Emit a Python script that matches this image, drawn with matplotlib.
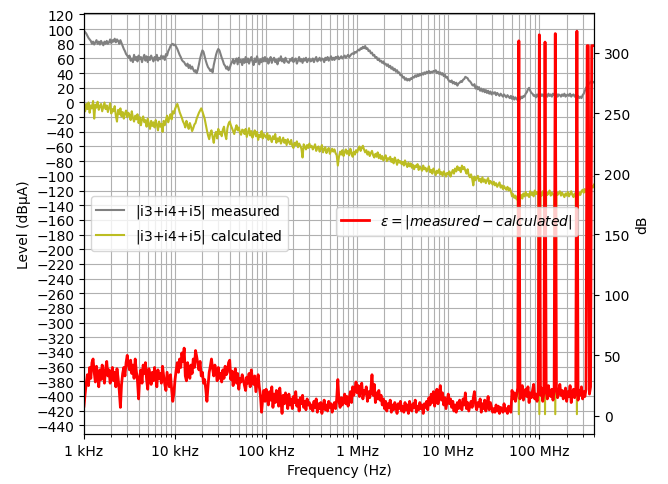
import numpy as np
import matplotlib
matplotlib.use("Agg")
import matplotlib.pyplot as plt
from matplotlib.ticker import EngFormatter, NullFormatter

# Spectrum sampled on a logarithmic grid, 1 kHz .. 400 MHz (80 points per decade)
f_start, f_stop, n_pts = 1e3, 4e8, 449
freq = np.geomspace(f_start, f_stop, n_pts)

# |i3+i4+i5| measured (dBuA)
measured = [
    98, 96, 94, 91, 88, 86, 84, 80, 83, 79, 82, 85, 80, 83, 79, 84, 81, 78, 83, 80,
    84, 80, 82, 86, 81, 85, 83, 87, 82, 86, 84, 80, 85, 81, 77, 73, 70, 66, 64, 61,
    64, 57, 60, 55, 65, 58, 62, 56, 64, 59, 62, 55, 61, 65, 57, 63, 55, 62, 58, 64,
    60, 56, 62, 58, 65, 57, 61, 59, 64, 60, 63, 58, 66, 64, 70, 73, 77, 79, 80, 78,
    79, 76, 73, 69, 65, 62, 58, 56, 55, 52, 50, 53, 47, 51, 46, 49, 45, 42, 44, 40,
    45, 52, 60, 66, 71, 69, 63, 57, 52, 48, 46, 43, 45, 41, 51, 58, 65, 70, 73, 71,
    66, 61, 57, 52, 50, 46, 49, 44, 47, 52, 55, 59, 53, 57, 60, 52, 61, 55, 58, 51,
    59, 54, 62, 55, 60, 53, 58, 62, 56, 51, 60, 55, 63, 57, 52, 59, 55, 61, 56, 62,
    56, 60, 53, 58, 62, 54, 59, 61, 55, 58, 52, 60, 57, 63, 56, 59, 54, 61, 57, 55,
    54, 59, 57, 61, 55, 58, 60, 53, 57, 62, 56, 59, 54, 60, 57, 61, 55, 58, 60, 56,
    57, 60, 55, 59, 62, 56, 58, 61, 57, 60, 59, 55, 61, 58, 62, 57, 60, 63, 58, 61,
    58, 62, 60, 63, 59, 61, 63, 60, 62, 64, 61, 63, 65, 62, 64, 66, 67, 66, 69, 68,
    70, 72, 71, 74, 73, 76, 74, 77, 73, 74, 70, 71, 67, 68, 64, 65, 61, 62, 58, 60,
    56, 57, 54, 56, 52, 53, 50, 52, 48, 50, 46, 48, 44, 46, 42, 44, 40, 41, 37, 38,
    34, 35, 31, 33, 30, 32, 30, 33, 32, 35, 34, 37, 35, 38, 36, 39, 37, 40, 38, 41,
    39, 42, 40, 43, 40, 42, 41, 43, 42, 44, 40, 42, 39, 41, 38, 40, 36, 38, 34, 35,
    31, 29, 28, 30, 26, 28, 25, 27, 23, 26, 27, 29, 28, 31, 32, 35, 34, 33, 30, 29,
    27, 24, 23, 25, 19, 22, 18, 21, 16, 19, 15, 18, 14, 17, 13, 16, 12, 15, 11, 14,
    12, 14, 10, 13, 11, 9, 12, 10, 8, 11, 9, 7, 10, 8, 6, 9, 5, 8, 4, 7,
    5, 3, 6, 4, 8, 6, 9, 8, 12, 14, 18, 20, 16, 13, 12, 9, 10, 7, 11, 8,
    10, 12, 9, 11, 8, 12, 10, 8, 12, 9, 11, 8, 12, 10, 9, 12, 8, 11, 10, 8,
    11, 9, 12, 8, 10, 11, 9, 12, 8, 10, 11, 8, 10, 7, 9, 6, 8, 6, 10, 12,
    16, 20, 22, 25, 26, 28, 29, 27, 28,
]

# |i3+i4+i5| calculated (dBuA)
calculated = [
    -6, -12, -2, -9, 0, -14, -4, -8, 2, -22, -3, -7, 1, -10, -5, -2, -12, -6, 0, -9,
    -4, -13, -7, -1, -15, -9, -12, -5, -18, -26, -10, -16, -8, -19, -13, -22, -15, -11, -20, -14,
    -17, -24, -12, -21, -26, -18, -23, -16, -28, -20, -31, -23, -19, -27, -24, -33, -22, -29, -36, -25,
    -32, -27, -34, -24, -30, -38, -26, -33, -29, -40, -25, -31, -24, -18, -27, -21, -16, -23, -12, -15,
    -9, -5, -2, -7, -13, -17, -21, -26, -29, -34, -25, -31, -36, -28, -33, -39, -35, -30, -28, -22,
    -18, -14, -11, -8, -12, -17, -22, -30, -38, -45, -50, -42, -38, -47, -55, -44, -40, -49, -36, -43,
    -40, -46, -37, -33, -44, -50, -35, -29, -26, -31, -35, -39, -43, -36, -31, -38, -34, -41, -44, -37,
    -38, -43, -36, -47, -41, -35, -45, -39, -48, -42, -38, -46, -40, -51, -44, -47, -39, -49, -43, -46,
    -48, -42, -51, -45, -49, -54, -46, -50, -43, -55, -49, -53, -47, -56, -52, -48, -55, -51, -58, -50,
    -54, -57, -51, -59, -62, -55, -58, -53, -61, -56, -59, -63, -75, -57, -60, -64, -58, -62, -56, -61,
    -59, -64, -61, -57, -66, -62, -60, -67, -63, -58, -68, -64, -61, -69, -65, -62, -70, -66, -63, -67,
    -64, -69, -72, -86, -74, -67, -71, -65, -73, -68, -64, -70, -66, -72, -63, -69, -74, -67, -71, -65,
    -68, -63, -60, -66, -62, -59, -64, -68, -65, -71, -67, -73, -69, -66, -72, -75, -70, -74, -68, -76,
    -71, -77, -73, -79, -75, -72, -80, -76, -78, -74, -81, -77, -83, -75, -79, -85, -78, -82, -80, -84,
    -81, -86, -79, -84, -88, -82, -87, -83, -89, -85, -91, -86, -88, -84, -92, -87, -90, -93, -86, -91,
    -89, -94, -91, -87, -95, -92, -97, -90, -94, -99, -93, -96, -91, -98, -95, -100, -94, -97, -101, -96,
    -98, -94, -101, -96, -92, -97, -90, -94, -87, -92, -89, -95, -86, -91, -88, -93, -97, -91, -99, -102,
    -98, -104, -113, -101, -106, -103, -100, -107, -104, -109, -102, -108, -105, -110, -106, -103, -111, -107, -109, -112,
    -108, -113, -110, -115, -112, -109, -116, -113, -118, -114, -117, -119, -115, -120, -117, -121, -128, -125, -130, -127,
    -132, -128, -425, -130, -126, -131, -124, -128, -122, -127, -125, -129, -121, -126, -123, -128, -120, -125, -122, -126,
    -425, -123, -127, -121, -125, -425, -122, -126, -124, -120, -127, -123, -125, -128, -425, -122, -126, -124, -121, -127,
    -123, -126, -129, -124, -127, -122, -128, -125, -121, -126, -129, -124, -127, -425, -128, -123, -126, -121, -119, -123,
    -118, -122, -117, -120, -115, -118, -114, -116, -112,
]

# Difference between measured and calculated (dB)
epsilon = [
    8, 18, 27, 34, 25, 40, 31, 44, 47, 36, 28, 41, 33, 24, 38, 30, 42, 35, 27, 39,
    45, 33, 38, 27, 34, 40, 29, 36, 24, 39, 31, 21, 7, 26, 35, 40, 33, 44, 50, 42,
    38, 46, 35, 42, 31, 47, 37, 29, 14, 33, 38, 27, 42, 35, 44, 30, 22, 39, 34, 26,
    36, 29, 40, 33, 24, 38, 31, 35, 27, 41, 33, 26, 21, 36, 30, 24, 34, 22, 12, 19,
    30, 38, 44, 36, 47, 40, 52, 45, 56, 33, 29, 44, 38, 31, 42, 35, 47, 40, 54, 49,
    43, 38, 45, 33, 36, 27, 30, 22, 12, 25, 36, 41, 47, 39, 33, 42, 37, 29, 40, 31,
    35, 28, 38, 31, 41, 34, 36, 44, 46, 30, 37, 25, 33, 39, 27, 35, 22, 31, 28, 34,
    30, 25, 21, 32, 27, 35, 24, 38, 30, 26, 33, 20, 27, 34, 24, 17, 3, 14, 21, 12,
    22, 15, 9, 20, 13, 24, 7, 18, 11, 21, 16, 8, 23, 12, 2, 17, 10, 19, 13, 6,
    18, 9, 14, 6, 16, 11, 20, 8, 13, 4, 15, 10, 17, 7, 12, 5, 14, 9, 11, 6,
    9, 4, 12, 7, 14, 3, 10, 6, 11, 2, 8, 13, 5, 9, 4, 12, 7, 10, 3, 8,
    11, 6, 14, 30, 12, 7, 15, 9, 13, 18, 10, 16, 8, 14, 20, 11, 24, 17, 22, 28,
    19, 25, 16, 23, 27, 14, 21, 18, 24, 12, 20, 15, 22, 34, 17, 26, 11, 19, 14, 21,
    13, 17, 9, 14, 6, 12, 4, 10, 7, 13, 3, 9, 5, 11, 8, 2, 10, 6, 12, 4,
    8, 3, 11, 5, 9, 2, 12, 6, 4, 10, 7, 13, 3, 8, 5, 11, 6, 9, 2, 10,
    7, 12, 5, 15, 9, 18, 11, 20, 8, 14, 22, 10, 17, 25, 13, 19, 9, 15, 6, 12,
    18, 10, 14, 7, 12, 4, 9, 3, 11, 6, 13, 8, 5, 14, 9, 19, 6, 11, 4, 8,
    12, 7, 15, 20, 9, 5, 11, 8, 14, 3, 10, 6, 13, 4, 9, 16, 5, 11, 7, 3,
    6, 3, 9, 4, 8, 2, 7, 5, 3, 10, 4, 6, 2, 8, 5, 3, 21, 14, 19, 12,
    17, 23, 310, 14, 20, 25, 13, 18, 22, 16, 24, 11, 19, 15, 21, 26, 14, 18, 12, 20,
    315, 17, 23, 12, 19, 309, 21, 14, 25, 18, 16, 22, 13, 20, 316, 24, 15, 19, 26, 17,
    21, 14, 18, 23, 12, 20, 16, 25, 11, 19, 22, 15, 18, 318, 13, 21, 17, 24, 14, 20,
    16, 22, 306, 306, 18, 24, 306, 306, 306,
]

fig = plt.figure(figsize=(6.68, 4.85), dpi=100)
ax = fig.add_axes([0.1257, 0.1031, 0.7635, 0.868])

ax.plot(freq, measured, color="gray", lw=1.5, label=r"$|$i3+i4+i5$|$ measured")
ax.plot(freq, calculated, color="tab:olive", lw=1.5, label=r"$|$i3+i4+i5$|$ calculated")
ax.set_xscale("log")
ax.set_xlim(f_start, f_stop)
ax.set_ylim(-452, 122)
ax.set_yticks(np.arange(-440, 121, 20))
ax.xaxis.set_major_formatter(EngFormatter(unit="Hz"))
ax.xaxis.set_minor_formatter(NullFormatter())
ax.grid(True, which="both", color="#b0b0b0", lw=0.8)
ax.set_xlabel("Frequency (Hz)")
ax.set_ylabel("Level (dBµA)")
ax.legend(loc="center left")

ax2 = ax.twinx()
ax2.plot(freq, epsilon, color="red", lw=2.0,
         label=r"$\varepsilon = |measured - calculated|$")
ax2.set_ylim(-15, 333)
ax2.set_yticks(np.arange(0, 301, 50))
ax2.set_ylabel("dB")
ax2.legend(loc="center right", bbox_to_anchor=(0.9826, 0.505))

fig.savefig("out.png", dpi=100)
